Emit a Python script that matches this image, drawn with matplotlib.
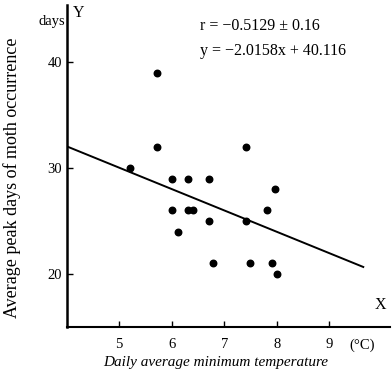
import matplotlib
matplotlib.use("Agg")
import matplotlib.pyplot as plt
import numpy as np

plt.rcParams['font.family'] = ['Liberation Serif', 'DejaVu Serif']

# daily average minimum temperature (°C) and peak days of moth occurrence
temp = [5.72, 5.72, 7.42, 5.21, 6.01, 6.31, 6.71, 7.97, 6.01, 6.31, 6.41,
        7.82, 6.71, 7.42, 6.12, 6.79, 7.50, 7.91, 8.01]
days = [39, 32, 32, 30, 29, 29, 29, 28, 26, 26, 26,
        26, 25, 25, 24, 21, 21, 21, 20]

# regression y = a*x + b
slope = -2.0158
intercept = 40.116
line_x = [4.0, 9.65]

xticks = [5, 6, 7, 8, 9]
yticks = [20, 30, 40]

fig = plt.figure(figsize=(3.92, 3.78), dpi=100)
ax = fig.add_axes([0.170, 0.135, 0.825, 0.852])

lx = np.array(line_x)
ax.plot(lx, slope * lx + intercept, color='black', lw=1.4)
ax.scatter(temp, days, s=22, color='black', zorder=3)

ax.set_xlim(4, 10.16)
ax.set_ylim(15, 45.4)
ax.set_xticks(xticks)
ax.set_xticklabels([str(t) for t in xticks])
ax.set_yticks(yticks)
ax.set_yticklabels([str(t) for t in yticks])
ax.tick_params(direction='in', length=4, width=1, labelsize=10.5)
ax.tick_params(axis='x', pad=8)
for s in ['top', 'right']:
    ax.spines[s].set_visible(False)
ax.spines['left'].set_linewidth(1.8)
ax.spines['bottom'].set_linewidth(1.5)

fig.text(0.89, 0.087, '(°C)', fontsize=10.5, ha='left', va='center')
fig.text(0.985, 0.172, 'X', fontsize=11.5, ha='right', va='bottom')
fig.text(0.185, 0.965, 'Y', fontsize=11.5, ha='left', va='center')
fig.text(0.165, 0.944, 'days', fontsize=10.5, ha='right', va='center')

fig.text(0.51, 0.932, 'r = −0.5129 ± 0.16', fontsize=11.5,
         ha='left', va='center')
fig.text(0.51, 0.866, 'y = −2.0158x + 40.116', fontsize=11.5,
         ha='left', va='center')

fig.text(0.55, 0.042, 'Daily average minimum temperature', fontsize=11,
         style='italic', ha='center', va='center')
fig.text(0.03, 0.53, 'Average peak days of moth occurrence', fontsize=13,
         rotation=90, ha='center', va='center')

fig.savefig('out.png', dpi=100)
